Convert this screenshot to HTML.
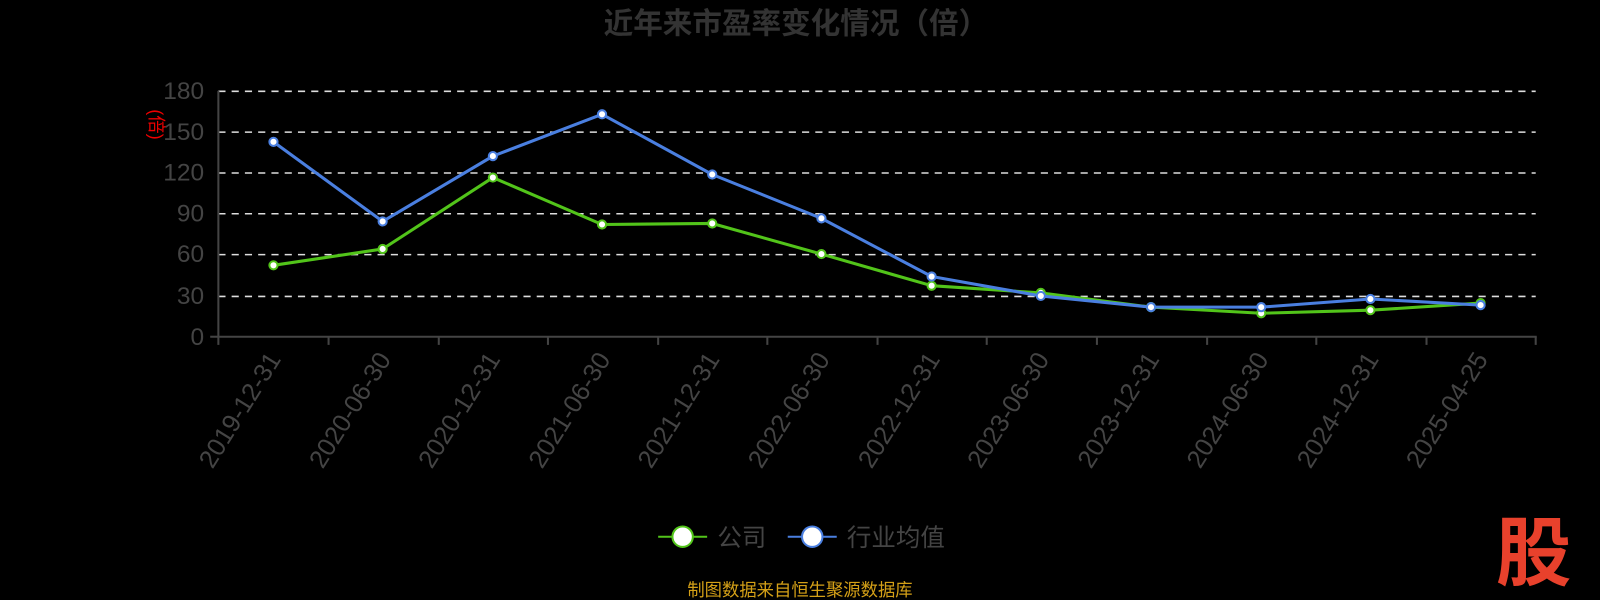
<!DOCTYPE html>
<html><head><meta charset="utf-8"><style>
html,body{margin:0;padding:0;background:#000;}
svg{display:block;font-family:"Liberation Sans","Noto Sans CJK SC",sans-serif;}
</style></head><body>
<svg width="1600" height="600" viewBox="0 0 1600 600" xmlns="http://www.w3.org/2000/svg">
<rect width="1600" height="600" fill="#000"/>
<g transform="scale(1.0204)">
<text x="780" y="33" text-anchor="middle" font-size="29" font-weight="bold" fill="#333">近年来市盈率变化情况（倍）</text>
<g stroke="#ddd" stroke-width="1.5" stroke-dasharray="7,6">
<line x1="214" y1="89.5" x2="1505" y2="89.5"/>
<line x1="214" y1="129.5" x2="1505" y2="129.5"/>
<line x1="214" y1="169.5" x2="1505" y2="169.5"/>
<line x1="214" y1="209.5" x2="1505" y2="209.5"/>
<line x1="214" y1="249.5" x2="1505" y2="249.5"/>
<line x1="214" y1="290.5" x2="1505" y2="290.5"/>
</g>
<g stroke="#444" stroke-width="2">
<line x1="214" y1="330" x2="1506" y2="330"/>
<line x1="214" y1="89" x2="214" y2="338"/>
<line x1="206" y1="330" x2="214" y2="330"/>
<line x1="322" y1="330" x2="322" y2="338"/><line x1="430" y1="330" x2="430" y2="338"/>
<line x1="537" y1="330" x2="537" y2="338"/><line x1="645" y1="330" x2="645" y2="338"/>
<line x1="752" y1="330" x2="752" y2="338"/><line x1="860" y1="330" x2="860" y2="338"/>
<line x1="967" y1="330" x2="967" y2="338"/><line x1="1075" y1="330" x2="1075" y2="338"/>
<line x1="1183" y1="330" x2="1183" y2="338"/><line x1="1290" y1="330" x2="1290" y2="338"/>
<line x1="1398" y1="330" x2="1398" y2="338"/><line x1="1505" y1="330" x2="1505" y2="338"/>
</g>
<g font-size="24" fill="#444" text-anchor="end">
<text x="200" y="97">180</text><text x="200" y="137">150</text><text x="200" y="177">120</text>
<text x="200" y="217">90</text><text x="200" y="257">60</text><text x="200" y="298">30</text><text x="200" y="338">0</text>
</g>
<text transform="translate(147,122) rotate(90)" text-anchor="middle" font-size="18" fill="#e00">(倍)</text>
<g font-size="25" fill="#444" text-anchor="end">
<text transform="translate(276,352) rotate(-58)">2019-12-31</text>
<text transform="translate(384,352) rotate(-58)">2020-06-30</text>
<text transform="translate(491,352) rotate(-58)">2020-12-31</text>
<text transform="translate(599,352) rotate(-58)">2021-06-30</text>
<text transform="translate(706,352) rotate(-58)">2021-12-31</text>
<text transform="translate(814,352) rotate(-58)">2022-06-30</text>
<text transform="translate(922,352) rotate(-58)">2022-12-31</text>
<text transform="translate(1029,352) rotate(-58)">2023-06-30</text>
<text transform="translate(1137,352) rotate(-58)">2023-12-31</text>
<text transform="translate(1244,352) rotate(-58)">2024-06-30</text>
<text transform="translate(1352,352) rotate(-58)">2024-12-31</text>
<text transform="translate(1459,352) rotate(-58)">2025-04-25</text>
</g>
<polyline fill="none" stroke="#52c41a" stroke-width="3" stroke-linejoin="round" points="268,260 375,244 483,174 590,220 698,219 805,249 913,280 1020,287 1128,301 1236,307 1343,304 1451,297"/>
<polyline fill="none" stroke="#4a7fe0" stroke-width="3" stroke-linejoin="round" points="268,139 375,217 483,153 590,112 698,171 805,214 913,271 1020,290 1128,301 1236,301 1343,293 1451,299"/>
<g fill="#fff" stroke="#52c41a" stroke-width="2">
<circle cx="268" cy="260" r="4"/><circle cx="375" cy="244" r="4"/><circle cx="483" cy="174" r="4"/><circle cx="590" cy="220" r="4"/><circle cx="698" cy="219" r="4"/><circle cx="805" cy="249" r="4"/><circle cx="913" cy="280" r="4"/><circle cx="1020" cy="287" r="4"/><circle cx="1128" cy="301" r="4"/><circle cx="1236" cy="307" r="4"/><circle cx="1343" cy="304" r="4"/><circle cx="1451" cy="297" r="4"/>
</g>
<g fill="#fff" stroke="#4a7fe0" stroke-width="2">
<circle cx="268" cy="139" r="4"/><circle cx="375" cy="217" r="4"/><circle cx="483" cy="153" r="4"/><circle cx="590" cy="112" r="4"/><circle cx="698" cy="171" r="4"/><circle cx="805" cy="214" r="4"/><circle cx="913" cy="271" r="4"/><circle cx="1020" cy="290" r="4"/><circle cx="1128" cy="301" r="4"/><circle cx="1236" cy="301" r="4"/><circle cx="1343" cy="293" r="4"/><circle cx="1451" cy="299" r="4"/>
</g>
<line x1="645" y1="526" x2="693" y2="526" stroke="#52c41a" stroke-width="2"/>
<circle cx="669" cy="526" r="10" fill="#fff" stroke="#52c41a" stroke-width="2"/>
<text x="703" y="535" font-size="24" fill="#444">公司</text>
<line x1="772" y1="526" x2="820" y2="526" stroke="#4a7fe0" stroke-width="2"/>
<circle cx="796" cy="526" r="10" fill="#fff" stroke="#4a7fe0" stroke-width="2"/>
<text x="830" y="535" font-size="24" fill="#444">行业均值</text>
<text x="784" y="584" text-anchor="middle" font-size="17" fill="#d4a017">制图数据来自恒生聚源数据库</text>
<text x="1503" y="568" text-anchor="middle" font-size="74" font-weight="bold" fill="#e8412c">股</text>
</g>
</svg>
</body></html>
